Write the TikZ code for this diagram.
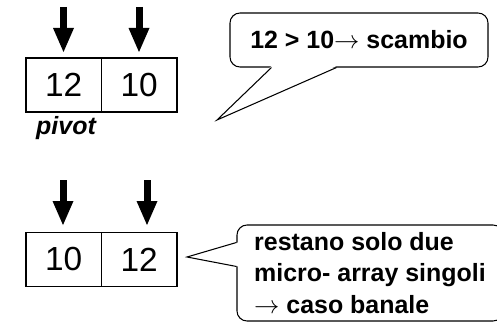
\documentclass[tikz,border=0pt]{standalone}
\usepackage{fontspec}
\setmainfont{Liberation Sans}
\usetikzlibrary{arrows.meta,positioning,calc}

\begin{document}
\begin{tikzpicture}[line width=0.6pt]
	\tikzstyle{cell} = [draw,minimum width=1.51cm,minimum height=1.08cm,inner sep=0pt,font=\fontsize{19}{22}\selectfont]
	\tikzstyle{pointer} = [line width=0.14cm,-{Triangle[width=0.42cm,length=0.48cm,line width=0pt]}]
	\tikzstyle{talk} = [draw,fill=white,rounded corners=0.2cm,inner sep=0pt,font=\fontsize{14.2}{18}\selectfont\bfseries]
	\useasboundingbox (0,0) rectangle (9.94,-6.44);
	\clip (0,0) rectangle (9.94,-6.44);
	% First step: the two cells
	\node[cell] at (1.275,-1.70)(a0) {12};
	\node[cell] at (2.785,-1.70)(a1) {10};
	\node[font=\fontsize{14.2}{17}\selectfont\bfseries\itshape] at (1.32,-2.56)(piv) {pivot};
	% First step: the two indices
	\coordinate (i0) at (1.27,-0.14);
	\coordinate (j0) at (1.27,-1.04);
	\coordinate (i1) at (2.78,-0.14);
	\coordinate (j1) at (2.78,-1.04);
	\draw[pointer] (i0) -- (j0);
	\draw[pointer] (i1) -- (j1);
	% First step: comparison
	\node[talk,minimum width=5.16cm,minimum height=1.08cm] at (7.18,-0.80)(say0) {12 > 10$\rightarrow$ scambio};
	\coordinate (s0a) at ([xshift=0.84cm,yshift=0.03cm]say0.south west);
	\coordinate (s0b) at ([xshift=2.14cm,yshift=0.03cm]say0.south west);
	\coordinate (s0t) at (4.34,-2.40);
	\fill[white] (s0a) -- (s0t) -- (s0b) -- cycle;
	\draw ([yshift=-0.03cm]s0a) -- (s0t) -- ([yshift=-0.03cm]s0b);
	% Second step: the two cells
	\node[cell] at (1.275,-5.19)(b0) {10};
	\node[cell] at (2.785,-5.19)(b1) {12};
	% Second step: the two indices
	\coordinate (k0) at (1.26,-3.60);
	\coordinate (l0) at (1.26,-4.50);
	\coordinate (k1) at (2.94,-3.60);
	\coordinate (l1) at (2.94,-4.50);
	\draw[pointer] (k0) -- (l0);
	\draw[pointer] (k1) -- (l1);
	% Second step: trivial case
	\node[talk,minimum width=5.32cm,minimum height=1.92cm,align=left] at (7.40,-5.46)(say1) {restano solo due\\micro- array singoli\\$\rightarrow$ caso banale};
	\coordinate (s1a) at ([xshift=0.03cm,yshift=-0.36cm]say1.north west);
	\coordinate (s1b) at ([xshift=0.03cm,yshift=-0.84cm]say1.north west);
	\coordinate (s1t) at (3.74,-5.14);
	\fill[white] (s1a) -- (s1t) -- (s1b) -- cycle;
	\draw ([xshift=-0.03cm]s1a) -- (s1t) -- ([xshift=-0.03cm]s1b);
\end{tikzpicture}
\end{document}
